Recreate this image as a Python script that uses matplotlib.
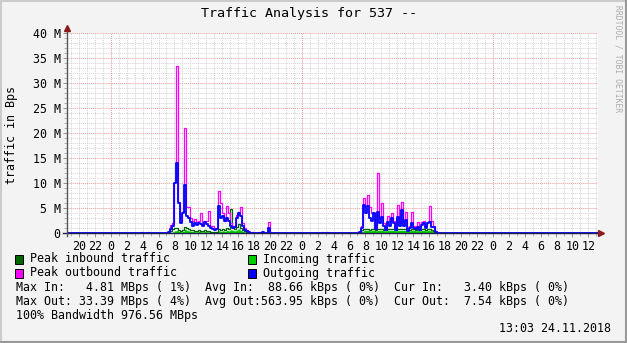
import numpy as np
import matplotlib
matplotlib.use("Agg")
import matplotlib.pyplot as plt
from matplotlib.patches import Rectangle
from matplotlib.lines import Line2D

W, H = 627, 343
MONO = "DejaVu Sans Mono"

##############################################################
# data, MBps in 15 minute steps (hours counted from day 0 midnight)
step = 0.25
t_start, t_end = 18.5, 85.25

day1_start = 31.0
day1_peak_out = [0, 0.3, 1.7, 2.0, 10.2, 33.4, 6.2, 2.2, 4.3, 21.0, 5.2, 5.2, 3.0, 2.5,
                 2.8, 2.3, 2.5, 4.0, 1.7, 2.5, 2.5, 4.5, 1.5, 1.5, 1.0, 1.0, 8.4, 6.0,
                 4.0, 2.5, 5.5, 4.0, 2.0, 1.5, 1.5, 3.7, 4.3, 5.3, 2.0, 1.0, 0.6, 0.3, 0]
day1_out = [0, 0.2, 0.8, 1.5, 10.0, 14.0, 6.0, 2.0, 4.0, 9.6, 3.5, 3.0, 2.3, 1.5,
            2.0, 1.6, 2.0, 1.8, 1.4, 2.2, 1.8, 1.5, 1.0, 0.8, 0.6, 0.8, 5.5, 3.0,
            3.5, 2.5, 3.0, 2.5, 1.5, 1.0, 1.2, 3.0, 4.0, 3.5, 1.5, 0.7, 0.4, 0.2, 0]
day1_in = [0, 0.1, 0.2, 0.3, 0.5, 0.6, 0.4, 0.3, 0.4, 0.8, 0.6, 0.5, 0.4, 0.4,
           0.3, 0.3, 0.4, 0.3, 0.3, 0.4, 0.3, 0.3, 0.2, 0.2, 0.2, 0.2, 0.5, 0.4,
           0.5, 0.4, 0.6, 0.5, 0.7, 0.6, 0.5, 0.7, 0.9, 0.6, 0.4, 0.3, 0.2, 0.1, 0]
day1_peak_in = [0, 0.2, 0.4, 0.8, 1.0, 1.0, 0.7, 0.5, 0.7, 1.3, 1.0, 0.8, 0.6, 0.6,
                0.5, 0.5, 0.6, 0.5, 0.5, 0.6, 0.5, 0.5, 0.3, 0.3, 0.3, 0.3, 0.8, 0.7,
                0.9, 0.7, 1.0, 0.9, 4.8, 1.0, 0.8, 1.2, 1.9, 1.0, 0.6, 0.4, 0.3, 0.1, 0]

day2_start = 55.0
day2_peak_out = [0, 0.2, 1.5, 7.0, 5.5, 7.7, 5.3, 4.0, 4.0, 1.2, 12.0, 3.0, 6.0, 2.0,
                 1.0, 3.5, 2.5, 4.0, 2.5, 1.0, 5.7, 2.0, 6.2, 2.5, 4.2, 0.8, 1.5, 4.3,
                 1.5, 1.3, 2.3, 1.0, 2.3, 2.4, 1.5, 2.3, 5.5, 2.5, 1.5, 0.5, 0]
day2_out = [0, 0.2, 1.0, 5.7, 4.0, 5.5, 3.0, 2.5, 4.0, 0.8, 4.3, 2.0, 3.3, 1.5,
            0.7, 2.3, 1.5, 3.0, 2.0, 0.6, 3.3, 1.5, 4.7, 1.5, 2.7, 0.5, 1.0, 2.0,
            1.0, 0.8, 1.3, 0.7, 1.6, 2.0, 1.0, 2.0, 2.3, 1.3, 1.2, 0.3, 0]
day2_in = [0, 0.1, 0.4, 0.6, 0.6, 0.6, 0.5, 0.6, 0.6, 0.5, 0.6, 0.6, 0.6, 0.5,
           0.5, 0.6, 0.6, 0.6, 0.6, 0.5, 0.6, 0.6, 0.6, 0.6, 0.6, 0.5, 0.5, 0.6,
           0.6, 0.5, 0.6, 0.5, 0.6, 0.6, 0.5, 0.6, 0.6, 0.5, 0.4, 0.2, 0]
day2_peak_in = [0, 0.2, 0.6, 0.8, 0.9, 0.8, 0.7, 0.8, 0.8, 0.7, 0.8, 0.8, 0.8, 0.7,
                0.7, 0.8, 0.8, 0.9, 0.8, 0.7, 0.8, 0.8, 0.8, 0.8, 0.8, 0.7, 0.7, 0.8,
                0.8, 0.7, 0.8, 0.7, 0.8, 0.8, 0.7, 0.8, 0.8, 0.7, 0.5, 0.3, 0]

# isolated small samples outside office hours
blip_hours = [27.75, 28.5, 41.75, 42.5, 43.0, 43.75, 50.5, 51.0]
blip_peak_out = [0.2, 0.2, 0.2, 0.2, 0.2, 2.3, 0.2, 0.2]
blip_out = [0, 0, 0, 0, 0.2, 1.0, 0, 0]

legend_rows = [("Peak inbound traffic", "#006600", "Incoming traffic", "#00CC00"),
               ("Peak outbound traffic", "#FF00FF", "Outgoing traffic", "#0000FF")]
stat_lines = ["Max In:   4.81 MBps ( 1%)  Avg In:  88.66 kBps ( 0%)  Cur In:   3.40 kBps ( 0%)",
              "Max Out: 33.39 MBps ( 4%)  Avg Out:563.95 kBps ( 0%)  Cur Out:  7.54 kBps ( 0%)",
              "100% Bandwidth 976.56 MBps"]

##############################################################
t = np.arange(t_start, t_end, step)
n = len(t)
peak_out = np.zeros(n); out = np.zeros(n); inc = np.zeros(n); peak_in = np.zeros(n)

def put(arr, start, vals):
    k = int(round((start - t_start) / step))
    arr[k:k + len(vals)] = vals

put(peak_out, day1_start, day1_peak_out); put(out, day1_start, day1_out)
put(inc, day1_start, day1_in); put(peak_in, day1_start, day1_peak_in)
put(peak_out, day2_start, day2_peak_out); put(out, day2_start, day2_out)
put(inc, day2_start, day2_in); put(peak_in, day2_start, day2_peak_in)
for h, p, o in zip(blip_hours, blip_peak_out, blip_out):
    put(peak_out, h, [p]); put(out, h, [o])

te = np.append(t, t[-1] + step)
def ext(v): return np.append(v, v[-1])

fig = plt.figure(figsize=(W / 100, H / 100), dpi=100, facecolor="#F3F3F3")
ax = fig.add_axes([67 / W, 1 - 233.3 / H, 531 / W, 200 / H])
ax.set_facecolor("white")
ax.set_xlim(18.5, 85.22)
ax.set_ylim(0, 40)
for s in ax.spines.values():
    s.set_visible(False)

# grid (dotted like rrdtool)
dot = (0, (1, 1))
for h in range(19, 86):
    if h % 24:
        ax.axvline(h, color="#D4D4D4", lw=0.7, ls=dot, zorder=0)
for m in range(1, 41):
    if m % 5:
        ax.axhline(m, color="#D4D4D4", lw=0.7, ls=dot, zorder=0)
for h in (24, 48, 72):
    ax.axvline(h, color="#E49A9A", lw=0.7, ls=dot, zorder=0.5)
for m in range(5, 41, 5):
    ax.axhline(m, color="#E49A9A", lw=0.7, ls=dot, zorder=0.5)

# traffic
ax.fill_between(te, ext(inc), step="post", color="#00CC00", lw=0, zorder=2)
ax.step(te, ext(peak_in), where="post", color="#006600", lw=0.9, zorder=3)
ax.step(te, ext(peak_out), where="post", color="#FF00FF", lw=0.9, zorder=3)
ax.step(te, ext(out), where="post", color="#0000FF", lw=1.3, zorder=4)

# axes with arrows
ax.plot([18.0, 85.6], [0, 0], color="#202048", lw=1.0, clip_on=False, zorder=6)
ax.plot([85.6], [0], marker=">", ms=4, color="#8B1A1A", clip_on=False, zorder=7)
ax.plot([18.5, 18.5], [-0.6, 41.0], color="#555555", lw=1.0, clip_on=False, zorder=6)
ax.plot([18.5], [41.0], marker="^", ms=4, color="#8B1A1A", clip_on=False, zorder=7)

xt = np.arange(20, 85, 2)
ax.set_xticks(xt)
ax.set_xticklabels([str(h % 24) for h in xt])
ax.set_xticks(np.arange(19, 86), minor=True)
yt = np.arange(0, 41, 5)
ax.set_yticks(yt)
ax.set_yticklabels(["0"] + ["%d M" % v for v in yt[1:]])
ax.set_yticks(np.arange(0, 41), minor=True)
ax.tick_params(which="major", length=3, width=0.7, color="#909090", pad=1.5,
               labelsize=8.4)
ax.tick_params(which="minor", length=2, width=0.7, color="#B0B0B0")
for lab in ax.get_xticklabels() + ax.get_yticklabels():
    lab.set_family(MONO)

def fx(x): return x / W
def fy(y): return 1 - y / H

fig.text(fx(309), fy(14), "Traffic Analysis for 537 --", ha="center", va="center",
         family=MONO, fontsize=9.6)
fig.text(fx(12), fy(135), "traffic in Bps", ha="center", va="center", rotation=90,
         family=MONO, fontsize=8.4)
fig.text(fx(618), fy(59), "RRDTOOL / TOBI OETIKER", ha="center", va="center",
         rotation=270, family=MONO, fontsize=5.8, color="#ACACAC")

# legend
for r, (l1, c1, l2, c2) in enumerate(legend_rows):
    y = 259 + r * 14
    for bx, lab, col in ((15, l1, c1), (248, l2, c2)):
        fig.patches.append(Rectangle((fx(bx), fy(y + 4.5)), 8 / W, 9 / H, facecolor=col,
                                     edgecolor="black", lw=0.7, transform=fig.transFigure))
        fig.text(fx(bx + 15), fy(y), lab, ha="left", va="center", family=MONO, fontsize=8.4)
for r, s in enumerate(stat_lines):
    fig.text(fx(16), fy(287 + r * 14), s, ha="left", va="center", family=MONO, fontsize=8.4)
fig.text(fx(611), fy(329), "13:03 24.11.2018", ha="right", va="center", family=MONO,
         fontsize=8.4)

# 3d frame
fig.lines.append(Line2D([0, 1], [fy(1), fy(1)], color="#CBCBCB", lw=1.5, transform=fig.transFigure))
fig.lines.append(Line2D([fx(1), fx(1)], [0, 1], color="#CBCBCB", lw=1.5, transform=fig.transFigure))
fig.lines.append(Line2D([0, 1], [fy(342), fy(342)], color="#999999", lw=1.5, transform=fig.transFigure))
fig.lines.append(Line2D([fx(626), fx(626)], [0, 1], color="#999999", lw=1.5, transform=fig.transFigure))

fig.savefig("out.png", dpi=100, facecolor=fig.get_facecolor())
